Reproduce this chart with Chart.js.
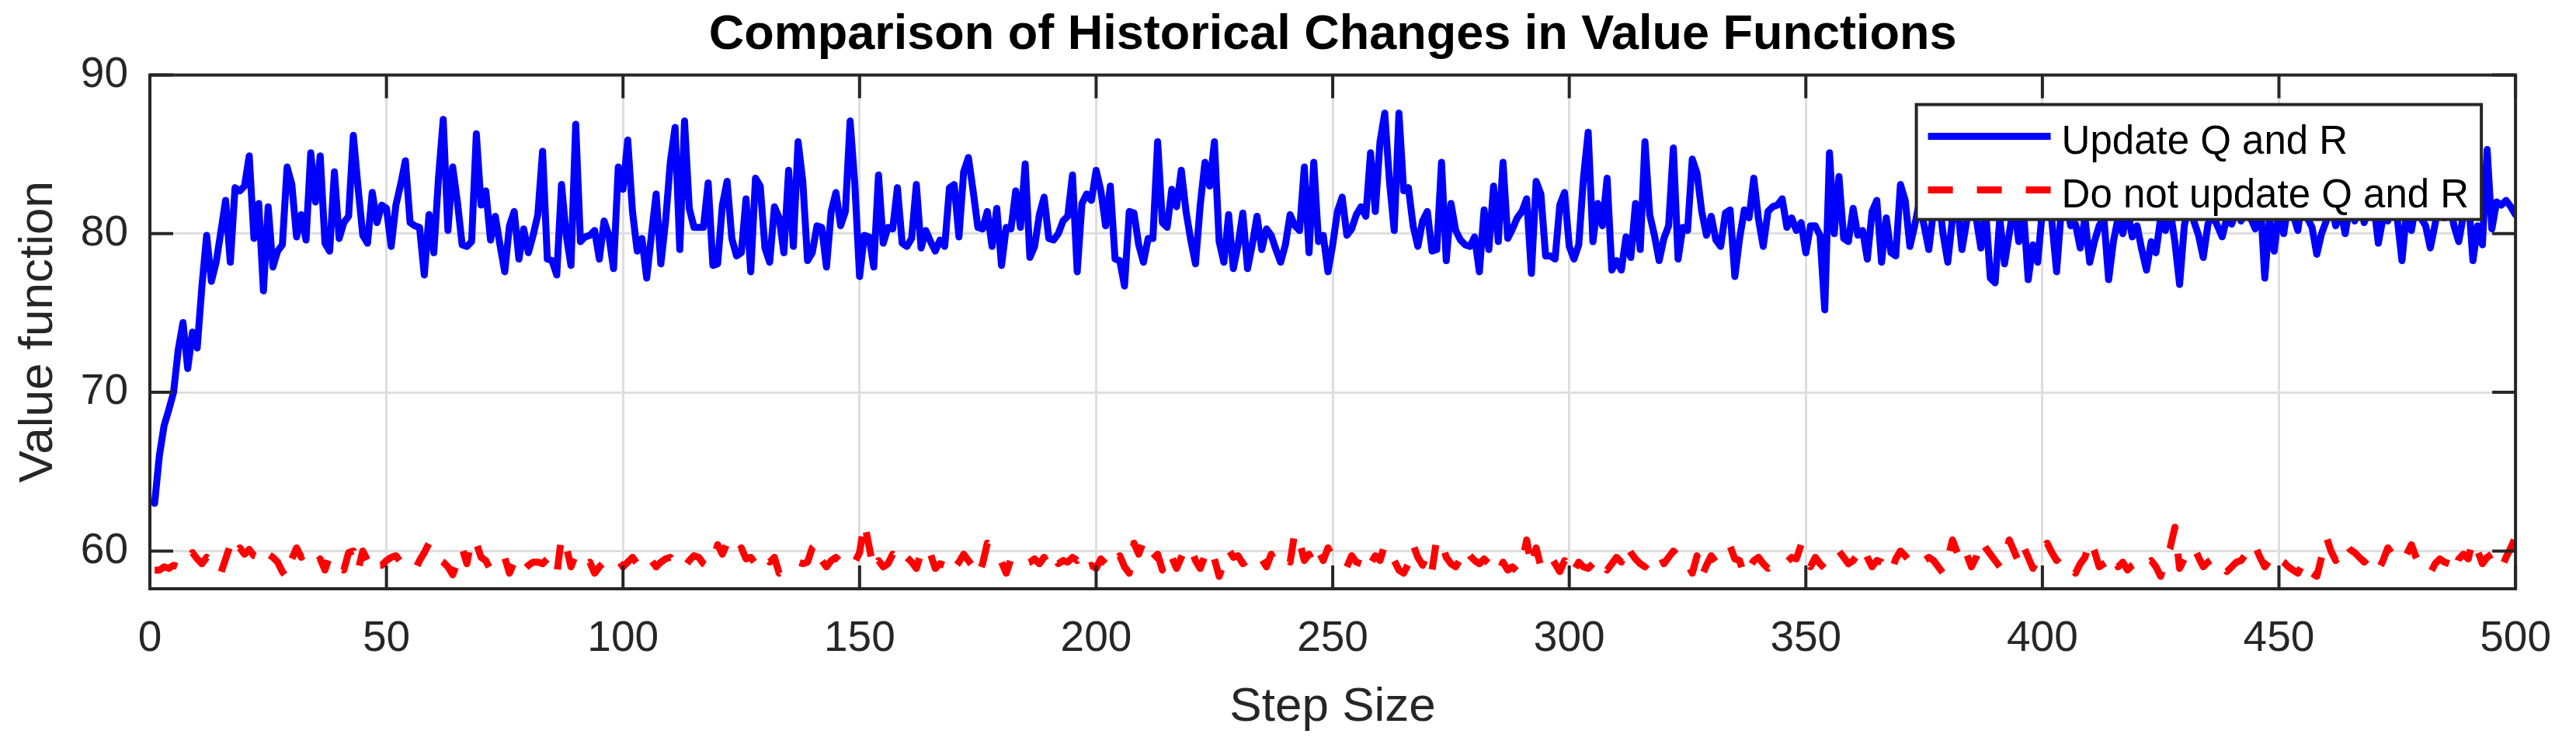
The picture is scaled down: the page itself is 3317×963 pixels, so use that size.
<!DOCTYPE html>
<html>
<head>
<meta charset="utf-8">
<title>Comparison of Historical Changes in Value Functions</title>
<script src="https://cdn.jsdelivr.net/npm/chart.js@4.4.1/dist/chart.umd.min.js"></script>
<style>
  html, body { margin: 0; padding: 0; background: #ffffff; }
  #wrap { width: 3317px; height: 963px; }
</style>
</head>
<body>
<div id="wrap"><canvas id="value-chart" width="3317" height="963"></canvas></div>
<script>
// --- data (steps 1..500) ---
const updateQR = [
  63.0, 66.0, 67.9, 68.9, 70.0, 72.7, 74.4, 71.5, 73.8, 72.8,
  76.7, 79.9, 77.0, 78.2, 80.1, 82.1, 78.2, 82.9, 82.7, 83.0,
  84.9, 79.7, 81.9, 76.4, 81.7, 77.9, 78.9, 79.3, 84.2, 83.1,
  79.8, 81.2, 79.6, 85.1, 82.0, 84.9, 79.4, 78.9, 83.9, 79.7,
  80.7, 81.1, 86.2, 82.9, 79.9, 79.4, 82.6, 80.7, 81.8, 81.6,
  79.2, 81.8, 83.1, 84.6, 80.7, 80.5, 80.4, 77.4, 81.2, 78.8,
  83.5, 87.2, 80.2, 84.2, 82.0, 79.3, 79.2, 79.5, 86.3, 81.8,
  82.7, 79.6, 81.1, 79.3, 77.6, 80.5, 81.4, 78.4, 80.3, 78.8,
  79.9, 81.2, 85.2, 78.4, 78.3, 77.4, 83.1, 79.9, 78.0, 86.9,
  79.5, 79.8, 79.9, 80.2, 78.4, 80.8, 79.9, 77.8, 84.2, 82.8,
  85.9, 81.4, 78.9, 79.7, 77.2, 79.9, 82.5, 78.1, 80.8, 84.5,
  86.7, 79.0, 87.1, 81.6, 80.4, 80.4, 80.4, 83.2, 78.0, 78.1,
  81.8, 83.3, 79.7, 78.6, 78.8, 82.2, 77.6, 83.5, 83.0, 79.1,
  78.2, 81.7, 81.0, 78.8, 84.0, 79.2, 85.8, 83.3, 78.3, 78.8,
  80.5, 80.4, 77.9, 81.4, 82.6, 80.5, 81.4, 87.1, 83.1, 77.3,
  79.9, 79.8, 77.9, 83.7, 79.4, 80.4, 80.3, 82.9, 79.4, 79.2,
  79.7, 83.1, 79.1, 80.2, 79.5, 78.9, 79.6, 79.2, 82.9, 83.1,
  79.8, 83.9, 84.8, 82.7, 80.4, 80.3, 81.4, 79.2, 81.6, 78.0,
  80.4, 80.3, 82.7, 80.4, 84.4, 78.5, 79.2, 81.2, 82.3, 79.7,
  79.6, 80.0, 80.8, 81.1, 83.7, 77.6, 81.9, 82.5, 82.1, 84.0,
  82.7, 80.5, 83.0, 78.4, 78.3, 76.7, 81.4, 81.3, 79.3, 78.2,
  79.7, 79.7, 85.8, 80.7, 80.4, 82.8, 81.7, 84.0, 81.4, 79.6,
  78.1, 81.8, 84.5, 83.0, 85.8, 79.5, 78.2, 81.2, 77.8, 79.3,
  81.3, 77.8, 79.3, 81.1, 79.0, 80.3, 79.9, 79.0, 78.2, 79.3,
  81.2, 80.5, 80.2, 84.2, 78.8, 84.5, 79.5, 79.9, 77.6, 79.3,
  81.4, 82.3, 79.9, 80.3, 81.2, 81.7, 81.1, 85.1, 81.4, 85.8,
  87.6, 83.3, 80.2, 87.6, 82.7, 82.9, 80.5, 79.2, 80.8, 81.4,
  78.9, 79.0, 84.5, 78.3, 81.9, 80.2, 79.6, 79.3, 79.2, 79.8,
  77.6, 81.5, 79.0, 83.0, 79.5, 84.5, 79.7, 80.3, 81.0, 81.4,
  82.2, 77.5, 83.3, 82.5, 78.6, 78.6, 78.4, 81.8, 82.6, 79.2,
  78.4, 79.3, 83.5, 86.4, 79.5, 81.9, 80.5, 83.5, 77.7, 78.3,
  77.7, 79.8, 78.5, 81.9, 79.0, 85.8, 81.2, 79.9, 78.3, 79.7,
  80.5, 85.4, 78.4, 80.4, 80.2, 84.7, 83.8, 81.4, 79.9, 81.1,
  79.6, 79.2, 81.3, 81.5, 77.3, 79.7, 81.5, 81.0, 83.5, 80.9,
  79.2, 81.4, 81.7, 81.8, 82.2, 80.4, 81.0, 80.2, 80.7, 78.8,
  80.5, 80.5, 79.9, 75.2, 85.1, 80.0, 83.6, 79.7, 79.5, 81.6,
  79.9, 80.2, 78.4, 81.4, 82.1, 78.2, 81.0, 78.8, 78.6, 83.1,
  82.1, 79.2, 80.5, 82.0, 80.5, 79.0, 81.5, 82.5, 80.0, 78.2,
  81.0, 82.0, 79.0, 80.8, 82.5, 81.0, 79.1, 81.5, 77.2, 76.9,
  81.0, 78.1, 80.0, 82.0, 79.5, 81.5, 77.1, 79.3, 78.2, 81.5,
  82.5, 80.8, 77.6, 81.5, 82.0, 80.5, 80.6, 79.1, 81.0, 78.2,
  79.5, 80.5, 81.0, 77.1, 79.5, 81.0, 80.0, 81.5, 79.8, 80.5,
  79.0, 77.7, 79.5, 78.8, 81.0, 80.2, 81.5, 79.5, 76.8, 80.5,
  82.0, 80.8, 79.9, 78.5, 80.6, 81.2, 80.5, 79.8, 81.0, 80.6,
  81.5, 80.8, 82.0, 81.0, 80.3, 82.5, 77.2, 81.0, 78.9, 81.5,
  80.0, 82.0, 81.2, 80.2, 82.5, 81.0, 80.4, 78.7, 80.0, 80.8,
  82.0, 80.5, 81.5, 80.0, 81.8, 80.8, 82.5, 80.7, 81.5, 82.0,
  79.4, 81.0, 80.8, 82.5, 81.0, 78.3, 81.5, 80.2, 82.0, 81.0,
  80.5, 79.1, 80.6, 82.3, 81.0, 82.0, 80.5, 79.5, 81.2, 82.5,
  78.3, 80.5, 79.3, 85.3, 80.3, 82.0, 81.8, 82.1, 81.7, 81.2
];

const noUpdateQR = [
  58.8, 58.8, 59.0, 58.9, 59.1, 59.0, 59.3, 59.2, 59.9, 59.5,
  59.2, 59.6, 59.4, 58.6, 58.6, 59.5, 60.4, 59.7, 60.2, 59.8,
  60.1, 59.7, 59.6, 59.2, 59.8, 59.6, 59.3, 58.7, 58.3, 59.5,
  60.2, 59.6, 59.9, 59.8, 59.2, 59.5, 58.8, 59.7, 59.2, 58.9,
  58.8, 59.9, 60.0, 58.8, 60.0, 59.4, 58.7, 59.1, 59.1, 59.4,
  59.6, 59.7, 59.3, 59.1, 58.8, 58.8, 59.4, 59.9, 60.5, 59.8,
  59.5, 59.3, 59.0, 58.5, 59.3, 60.2, 59.2, 60.8, 60.5, 59.6,
  59.4, 58.8, 58.9, 59.2, 59.6, 58.6, 59.3, 59.5, 58.8, 59.1,
  59.3, 59.3, 59.2, 59.5, 59.0, 58.5, 60.9, 60.3, 59.0, 59.8,
  59.4, 59.1, 59.3, 58.6, 59.0, 59.3, 59.6, 59.3, 59.4, 59.0,
  59.3, 59.6, 59.2, 59.5, 59.8, 59.4, 59.0, 59.3, 59.5, 59.6,
  59.0, 59.1, 59.0, 59.4, 59.7, 59.6, 59.2, 59.0, 59.3, 60.4,
  59.8, 60.5, 60.4, 59.8, 60.2, 59.5, 59.6, 59.2, 59.8, 59.6,
  59.3, 59.6, 58.6, 58.8, 59.0, 59.3, 59.3, 59.2, 59.3, 60.2,
  60.5, 59.4, 59.0, 59.4, 59.6, 59.3, 59.7, 59.5, 59.3, 59.9,
  61.8, 60.3, 58.8, 59.4, 59.0, 59.2, 59.8, 59.5, 59.1, 59.6,
  59.3, 58.9, 59.9, 59.4, 59.8, 58.9, 59.2, 59.1, 59.5, 58.9,
  59.3, 59.8, 59.4, 59.0, 58.4, 59.2, 60.5, 60.2, 59.6, 59.3,
  58.6, 59.5, 59.3, 59.0, 59.2, 59.3, 59.5, 59.2, 59.6, 59.1,
  59.7, 59.2, 59.4, 59.3, 59.6, 59.4, 59.8, 59.0, 59.1, 58.9,
  59.5, 59.2, 59.8, 59.4, 59.7, 59.0, 58.6, 60.5, 59.8, 60.6,
  60.0, 59.5, 59.8, 58.8, 59.9, 59.6, 58.9, 59.6, 60.3, 60.2,
  59.4, 58.9, 59.7, 60.2, 59.5, 58.4, 59.3, 60.1, 59.6, 59.7,
  59.2, 59.4, 59.2, 59.7, 59.5, 59.0, 59.8, 59.2, 59.4, 59.6,
  59.3, 61.2, 60.6, 59.4, 59.8, 59.2, 60.0, 59.4, 60.2, 59.6,
  59.6, 59.3, 59.0, 59.7, 59.3, 59.2, 58.6, 59.2, 59.7, 59.4,
  60.4, 59.8, 59.4, 58.8, 58.6, 59.2, 60.4, 59.6, 59.1, 59.8,
  58.8, 60.8, 60.6, 59.6, 59.2, 59.0, 59.5, 60.2, 59.7, 59.4,
  59.2, 59.5, 59.2, 59.2, 58.6, 59.3, 58.8, 59.0, 58.7, 59.2,
  60.7, 59.0, 60.2, 59.0, 59.4, 59.7, 59.2, 58.7, 59.4, 58.5,
  58.8, 59.3, 59.0, 58.9, 59.2, 59.0, 59.4, 58.8, 59.2, 59.6,
  59.3, 60.4, 59.9, 59.5, 59.2, 59.0, 59.4, 59.7, 59.9, 59.2,
  59.6, 60.0, 59.7, 59.8, 59.2, 58.6, 59.7, 58.4, 59.1, 59.7,
  59.3, 59.4, 59.7, 60.3, 59.5, 59.4, 58.4, 58.9, 59.4, 59.6,
  59.2, 58.9, 59.2, 59.4, 59.5, 59.3, 59.6, 59.5, 60.4, 59.8,
  59.0, 59.6, 59.2, 58.9, 59.3, 59.7, 60.0, 59.6, 59.2, 59.4,
  59.8, 60.3, 59.6, 59.0, 59.4, 59.3, 58.9, 58.6, 59.5, 60.0,
  59.7, 59.3, 59.5, 59.2, 59.4, 59.6, 59.4, 59.0, 58.6, 59.5,
  60.7, 59.9, 59.2, 59.8, 59.0, 59.6, 60.7, 60.2, 59.8, 59.4,
  59.0, 59.6, 60.7, 60.0, 59.3, 60.3, 59.6, 58.9, 59.5, 59.8,
  60.5, 59.9, 59.4, 59.7, 59.4, 59.0, 58.6, 59.2, 59.6, 60.7,
  60.0, 59.0, 59.2, 59.4, 59.8, 59.0, 59.3, 58.8, 59.1, 59.3,
  59.6, 59.2, 59.4, 59.0, 58.4, 59.5, 60.2, 61.5, 58.9, 59.5,
  59.8, 60.3, 59.6, 59.0, 59.3, 59.5, 59.6, 59.2, 58.7, 59.0,
  59.3, 59.4, 59.8, 59.6, 60.3, 59.6, 59.0, 59.4, 59.9, 59.5,
  59.3, 59.0, 58.8, 58.6, 59.2, 59.4, 58.6, 58.4, 59.6, 60.9,
  60.0, 59.4, 59.8, 60.5, 60.1, 59.9, 59.6, 59.3, 59.6, 59.4,
  58.8, 59.4, 60.2, 59.8, 59.3, 59.6, 59.8, 60.4, 59.6, 59.0,
  58.8, 58.6, 59.2, 59.5, 59.3, 59.2, 58.6, 59.5, 59.8, 59.5,
  60.7, 60.0, 59.2, 59.6, 59.8, 59.3, 58.9, 59.6, 60.2, 60.9
];

const xTicks = [0, 50, 100, 150, 200, 250, 300, 350, 400, 450, 500];
const yTicks = [60, 70, 80, 90];
const seriesLabels = ['Update Q and R', 'Do not update Q and R'];

const FONT = '"Liberation Sans", Arial, Helvetica, sans-serif';
const AXIS_COLOR = '#262626';
const TICK_LEN = 30;

const toPoints = vals => vals.map((v, i) => ({ x: i + 1, y: v }));

// MATLAB-style box: frame on all four sides, ticks pointing inwards
const matlabAxes = {
  id: 'matlabAxes',
  afterDatasetsDraw(chart) {
    const { ctx, chartArea: a, scales: { x, y } } = chart;
    ctx.save();
    ctx.strokeStyle = AXIS_COLOR;
    ctx.lineWidth = 4;
    ctx.beginPath();
    xTicks.forEach(v => {
      const px = x.getPixelForValue(v);
      ctx.moveTo(px, a.bottom); ctx.lineTo(px, a.bottom - TICK_LEN);
      ctx.moveTo(px, a.top); ctx.lineTo(px, a.top + TICK_LEN);
    });
    yTicks.forEach(v => {
      const py = y.getPixelForValue(v);
      ctx.moveTo(a.left, py); ctx.lineTo(a.left + TICK_LEN, py);
      ctx.moveTo(a.right, py); ctx.lineTo(a.right - TICK_LEN, py);
    });
    ctx.stroke();
    ctx.strokeRect(a.left, a.top, a.right - a.left, a.bottom - a.top);
    ctx.restore();
  },
};

// Legend boxed inside the upper right corner of the axes
const insetLegend = {
  id: 'insetLegend',
  afterDraw(chart) {
    const { ctx, chartArea: a } = chart;
    const sets = chart.data.datasets;
    ctx.save();
    ctx.font = `51px ${FONT}`;
    const textW = Math.max(...sets.map(d => ctx.measureText(d.label).width));
    const w = 15 + 158 + 14 + textW + 16;
    const h = 148;
    const right = a.right - 44;
    const top = a.top + 38;
    const left = right - w;
    ctx.fillStyle = '#ffffff';
    ctx.fillRect(left, top, w, h);
    ctx.lineWidth = 4;
    ctx.strokeStyle = AXIS_COLOR;
    ctx.strokeRect(left, top, w, h);
    sets.forEach((d, i) => {
      const yy = top + 41 + i * 69;
      ctx.beginPath();
      ctx.setLineDash(d.borderDash || []);
      ctx.lineWidth = d.borderWidth;
      ctx.strokeStyle = d.borderColor;
      ctx.moveTo(left + 15, yy);
      ctx.lineTo(left + 173, yy);
      ctx.stroke();
      ctx.setLineDash([]);
      ctx.fillStyle = '#000000';
      ctx.textBaseline = 'alphabetic';
      ctx.textAlign = 'left';
      ctx.fillText(d.label, left + 187, yy + 22);
    });
    ctx.restore();
  },
};

new Chart(document.getElementById('value-chart'), {
  type: 'line',
  plugins: [matlabAxes, insetLegend],
  data: {
    datasets: [
      {
        label: seriesLabels[0],
        data: toPoints(updateQR),
        borderColor: '#0000ff',
        borderWidth: 9,
        borderJoinStyle: 'round',
        borderCapStyle: 'round',
        pointRadius: 0,
        tension: 0,
        fill: false,
      },
      {
        label: seriesLabels[1],
        data: toPoints(noUpdateQR),
        borderColor: '#ff0000',
        borderWidth: 9,
        borderDash: [32, 31],
        borderJoinStyle: 'round',
        borderCapStyle: 'butt',
        pointRadius: 0,
        tension: 0,
        fill: false,
      },
    ],
  },
  options: {
    responsive: false,
    animation: false,
    events: [],
    layout: { padding: { left: 0, right: 64, top: 0, bottom: 0 } },
    plugins: {
      legend: { display: false },
      tooltip: { enabled: false },
      title: {
        display: true,
        fullSize: false,
        text: 'Comparison of Historical Changes in Value Functions',
        color: '#000000',
        font: { family: FONT, size: 63, weight: 'bold', lineHeight: 1.2 },
        padding: { top: 8, bottom: 13 },
      },
    },
    scales: {
      x: {
        type: 'linear',
        min: 0,
        max: 500,
        afterBuildTicks: s => { s.ticks = xTicks.map(v => ({ value: v })); },
        afterFit: s => { s.height = 205; },
        ticks: {
          color: AXIS_COLOR,
          font: { family: FONT, size: 55, lineHeight: 1.2 },
          padding: 32,
          maxRotation: 0,
          autoSkip: false,
        },
        grid: { color: '#dedede', lineWidth: 3, drawTicks: false },
        border: { display: false },
        title: {
          display: true,
          text: 'Step Size',
          color: AXIS_COLOR,
          font: { family: FONT, size: 62, lineHeight: 1.2 },
          padding: { top: 0, bottom: 15 },
        },
      },
      y: {
        type: 'linear',
        min: 57.62,
        max: 90,
        afterBuildTicks: s => { s.ticks = yTicks.map(v => ({ value: v })); },
        afterFit: s => { s.width = 193; },
        ticks: {
          color: AXIS_COLOR,
          font: { family: FONT, size: 55, lineHeight: 1.2 },
          padding: 28,
          autoSkip: false,
        },
        grid: { color: '#dedede', lineWidth: 3, drawTicks: false },
        border: { display: false },
        title: {
          display: true,
          text: 'Value function',
          color: AXIS_COLOR,
          font: { family: FONT, size: 62, lineHeight: 1.2 },
          padding: { top: 13, bottom: 0 },
        },
      },
    },
  },
});
</script>
</body>
</html>
